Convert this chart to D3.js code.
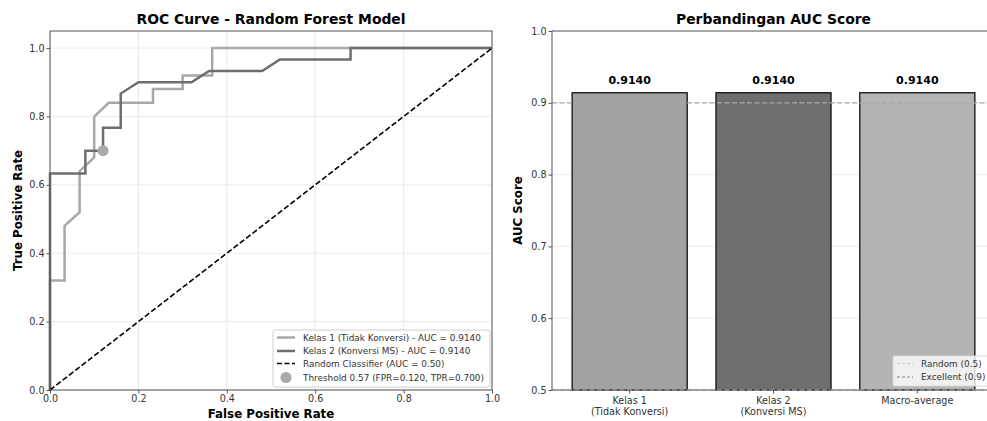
<!DOCTYPE html>
<html>
<head>
  <script src="https://d3js.org/d3.v7.js"></script>
  <style>
    html, body {
      margin: 0px;
      padding: 0px;
      background: #fff;
      font-family: "DejaVu Sans", Verdana, sans-serif;
    }
    .tick text { font-size: 9.6px; fill: #333; font-family: "DejaVu Sans", sans-serif; }
    .tick line { stroke: #555; }
    .domain { stroke: none; }
    .title { font-size: 13.9px; font-weight: bold; }
    .axisLabel { font-size: 11.8px; font-weight: bold; }
    .legendText { font-size: 8.9px; fill: #333; }
  </style>
</head>
<body>
  <div id="chart"></div>
  <script>
    // ROC data
    const fpr1 = [0, 0, 0.033, 0.033, 0.067, 0.067, 0.1, 0.1, 0.133, 0.233, 0.233, 0.3, 0.3, 0.367, 0.367, 1.0];
    const tpr1 = [0, 0.32, 0.32, 0.48, 0.52, 0.64, 0.68, 0.8, 0.84, 0.84, 0.88, 0.88, 0.92, 0.92, 1.0, 1.0];
    const fpr2 = [0, 0, 0.08, 0.08, 0.12, 0.12, 0.16, 0.16, 0.2, 0.32, 0.36, 0.48, 0.52, 0.68, 0.68, 1.0];
    const tpr2 = [0, 0.633, 0.633, 0.7, 0.7, 0.767, 0.767, 0.867, 0.9, 0.9, 0.933, 0.933, 0.967, 0.967, 1.0, 1.0];
    const threshold = {value: 0.57, fpr: 0.12, tpr: 0.7};

    const rocLabels = [
      "Kelas 1 (Tidak Konversi) - AUC = 0.9140",
      "Kelas 2 (Konversi MS) - AUC = 0.9140",
      "Random Classifier (AUC = 0.50)",
      "Threshold 0.57 (FPR=0.120, TPR=0.700)"
    ];
    const rocTicks = [0, 0.2, 0.4, 0.6, 0.8, 1.0];

    // AUC bars
    const aucCategories = [["Kelas 1", "(Tidak Konversi)"], ["Kelas 2", "(Konversi MS)"], ["Macro-average"]];
    const aucValues = [0.914, 0.914, 0.914];
    const aucTicks = [0.5, 0.6, 0.7, 0.8, 0.9, 1.0];
    const refLines = [{label: "Random (0.5)", value: 0.5}, {label: "Excellent (0.9)", value: 0.9}];

    const width = 987, height = 421;
    const svg = d3.select("#chart").append("svg")
      .attr("width", width).attr("height", height);

    /* LEFT: ROC CURVE */
    const L = {left: 50, right: 492, top: 31, bottom: 390};
    const x = d3.scaleLinear().domain([0, 1]).range([L.left, L.right]);
    const y = d3.scaleLinear().domain([0, 1.05]).range([L.bottom, L.top]);

    // grid
    svg.append("g").selectAll("line").data(rocTicks).join("line")
      .attr("x1", d => x(d)).attr("x2", d => x(d))
      .attr("y1", L.top).attr("y2", L.bottom)
      .attr("stroke", "#e4e4e4").attr("stroke-width", 0.8);
    svg.append("g").selectAll("line").data(rocTicks).join("line")
      .attr("x1", L.left).attr("x2", L.right)
      .attr("y1", d => y(d)).attr("y2", d => y(d))
      .attr("stroke", "#e4e4e4").attr("stroke-width", 0.8);

    svg.append("g").attr("transform", `translate(0,${L.bottom})`)
      .call(d3.axisBottom(x).tickValues(rocTicks).tickFormat(d3.format(".1f")).tickSize(3.5).tickPadding(2));
    svg.append("g").attr("transform", `translate(${L.left},0)`)
      .call(d3.axisLeft(y).tickValues(rocTicks).tickFormat(d3.format(".1f")).tickSize(3.5).tickPadding(2));

    const line = d3.line().x(d => x(d[0])).y(d => y(d[1]));
    svg.append("path").datum(d3.zip(fpr1, tpr1))
      .attr("d", line).attr("fill", "none").attr("stroke", "#a8a8a8").attr("stroke-width", 2.5);
    svg.append("path").datum(d3.zip(fpr2, tpr2))
      .attr("d", line).attr("fill", "none").attr("stroke", "#6e6e6e").attr("stroke-width", 2.5);
    svg.append("path").datum([[0, 0], [1, 1]])
      .attr("d", line).attr("fill", "none").attr("stroke", "#000").attr("stroke-width", 1.6)
      .attr("stroke-dasharray", "5.5,2.5");
    svg.append("circle")
      .attr("cx", x(threshold.fpr)).attr("cy", y(threshold.tpr)).attr("r", 5.5)
      .attr("fill", "#aaaaaa");

    svg.append("rect")
      .attr("x", L.left).attr("y", L.top).attr("width", L.right - L.left).attr("height", L.bottom - L.top)
      .attr("fill", "none").attr("stroke", "#555").attr("stroke-width", 1);

    svg.append("text").attr("class", "title")
      .attr("x", (L.left + L.right) / 2).attr("y", 24).attr("text-anchor", "middle")
      .text("ROC Curve - Random Forest Model");
    svg.append("text").attr("class", "axisLabel")
      .attr("x", (L.left + L.right) / 2).attr("y", 418).attr("text-anchor", "middle")
      .text("False Positive Rate");
    svg.append("text").attr("class", "axisLabel")
      .attr("transform", `translate(22,${(L.top + L.bottom) / 2}) rotate(-90)`)
      .attr("text-anchor", "middle")
      .text("True Positive Rate");

    // legend
    const lg = svg.append("g").attr("transform", "translate(273,330)");
    lg.append("rect").attr("width", 217).attr("height", 57).attr("rx", 2)
      .attr("fill", "#fff").attr("fill-opacity", 0.85).attr("stroke", "#d0d0d0");
    const rowY = [7.5, 21, 33.5, 47.5];
    const styles = [
      {stroke: "#a8a8a8", dash: null, w: 2.5},
      {stroke: "#6e6e6e", dash: null, w: 2.5},
      {stroke: "#000", dash: "5,2.5", w: 1.6}
    ];
    rocLabels.forEach((t, i) => {
      if (i < 3) {
        lg.append("line").attr("x1", 4).attr("x2", 22).attr("y1", rowY[i]).attr("y2", rowY[i])
          .attr("stroke", styles[i].stroke).attr("stroke-width", styles[i].w)
          .attr("stroke-dasharray", styles[i].dash);
      } else {
        lg.append("circle").attr("cx", 13).attr("cy", rowY[i]).attr("r", 5.5).attr("fill", "#aaaaaa");
      }
      lg.append("text").attr("class", "legendText").attr("x", 30).attr("y", rowY[i])
        .attr("dy", "0.35em").text(t);
    });

    /* RIGHT: AUC BARS */
    const R = {left: 552, right: 995, top: 31, bottom: 390};
    const unit = (R.right - R.left) / 3.08;
    const xc = i => R.left + (0.54 + i) * unit;
    const yb = d3.scaleLinear().domain([0.5, 1.0]).range([R.bottom, R.top]);

    svg.append("g").selectAll("line").data(aucTicks.slice(1, 5)).join("line")
      .attr("x1", R.left).attr("x2", R.right)
      .attr("y1", d => yb(d)).attr("y2", d => yb(d))
      .attr("stroke", "#e6e6e6").attr("stroke-width", 0.8);

    const barColors = ["#a2a2a2", "#6e6e6e", "#b4b4b4"];
    const bw = 0.8 * unit;
    svg.append("g").selectAll("rect").data(aucValues).join("rect")
      .attr("x", (d, i) => xc(i) - bw / 2)
      .attr("y", d => yb(d))
      .attr("width", bw)
      .attr("height", d => R.bottom - yb(d))
      .attr("fill", (d, i) => barColors[i])
      .attr("stroke", "#111").attr("stroke-width", 1.3);

    svg.append("g").selectAll("text").data(aucValues).join("text")
      .attr("x", (d, i) => xc(i)).attr("y", d => yb(d + 0.012))
      .attr("text-anchor", "middle").attr("font-size", "11px").attr("font-weight", "bold")
      .text(d => d.toFixed(4));

    const refColors = ["#d3d3d3", "#a8a8a8"];
    svg.append("g").selectAll("line").data(refLines).join("line")
      .attr("x1", R.left).attr("x2", R.right)
      .attr("y1", d => yb(d.value)).attr("y2", d => yb(d.value))
      .attr("stroke", (d, i) => refColors[i]).attr("stroke-width", 1.3)
      .attr("stroke-dasharray", "5,2.5");

    svg.append("g").attr("transform", `translate(${R.left},0)`)
      .call(d3.axisLeft(yb).tickValues(aucTicks).tickFormat(d3.format(".1f")).tickSize(3.5).tickPadding(2));

    // x ticks
    const xt = svg.append("g");
    aucCategories.forEach((lines, i) => {
      xt.append("line").attr("x1", xc(i)).attr("x2", xc(i)).attr("y1", R.bottom).attr("y2", R.bottom + 3.5)
        .attr("stroke", "#555");
      const t = xt.append("text").attr("x", xc(i)).attr("y", R.bottom + 14)
        .attr("text-anchor", "middle").attr("font-size", "9.6px").attr("fill", "#333");
      lines.forEach((s, j) => t.append("tspan").attr("x", xc(i)).attr("dy", j ? "1.1em" : 0).text(s));
    });

    svg.append("rect")
      .attr("x", R.left).attr("y", R.top).attr("width", R.right - R.left).attr("height", R.bottom - R.top)
      .attr("fill", "none").attr("stroke", "#555").attr("stroke-width", 1);

    svg.append("text").attr("class", "title")
      .attr("x", (R.left + R.right) / 2).attr("y", 24).attr("text-anchor", "middle")
      .text("Perbandingan AUC Score");
    svg.append("text").attr("class", "axisLabel")
      .attr("transform", `translate(522,${(R.top + R.bottom) / 2}) rotate(-90)`)
      .attr("text-anchor", "middle")
      .text("AUC Score");

    const rg = svg.append("g").attr("transform", "translate(893,356)");
    rg.append("rect").attr("width", 100).attr("height", 30).attr("rx", 2)
      .attr("fill", "#fff").attr("fill-opacity", 0.8).attr("stroke", "#d8d8d8");
    refLines.forEach((r, i) => {
      const yy = 7.5 + i * 13.5;
      rg.append("line").attr("x1", 4).attr("x2", 20).attr("y1", yy).attr("y2", yy)
        .attr("stroke", refColors[i]).attr("stroke-width", 1.3).attr("stroke-dasharray", "3,2");
      rg.append("text").attr("class", "legendText").attr("x", 28).attr("y", yy).attr("dy", "0.35em")
        .text(r.label);
    });
  </script>
</body>
</html>
